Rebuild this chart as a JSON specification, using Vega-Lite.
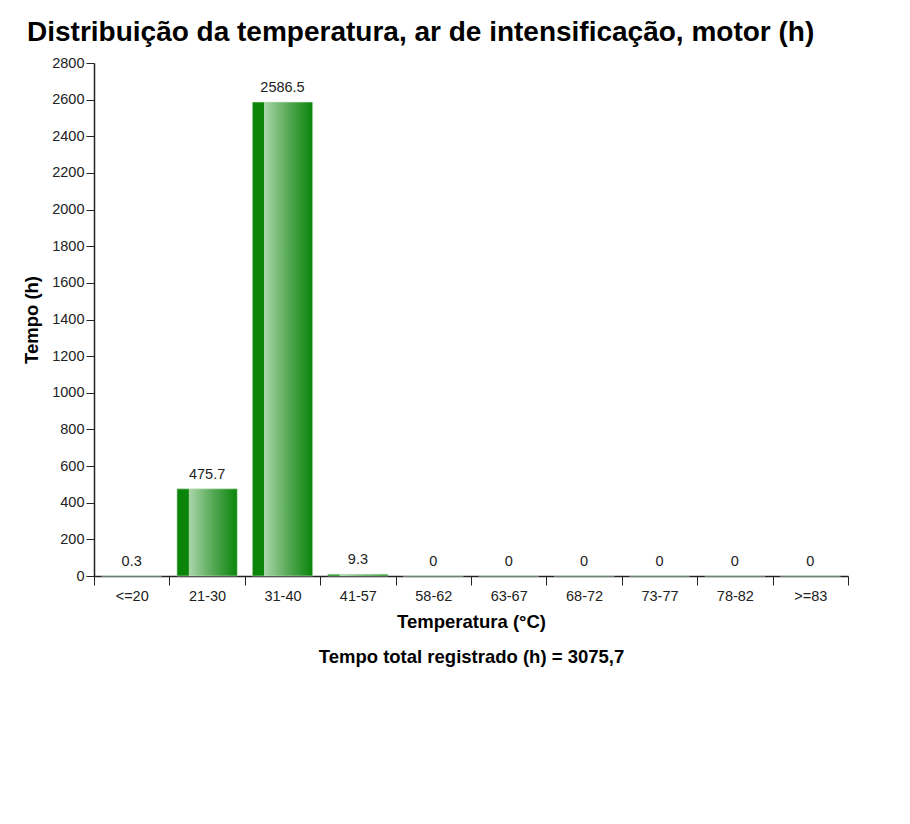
{
  "$schema": "https://vega.github.io/schema/vega-lite/v6.json",
  "autosize": {"type": "none"},
  "padding": {"left": 94, "top": 63, "right": 62, "bottom": 248},
  "width": 754,
  "height": 513,
  "background": "white",
  "config": {
    "font": "Liberation Sans",
    "view": {"stroke": null}
  },
  "title": {
    "text": "Distribuição da temperatura, ar de intensificação, motor (h)",
    "anchor": "start",
    "frame": "group",
    "dx": -67,
    "offset": 8,
    "fontSize": 28,
    "fontWeight": "bold",
    "color": "#000000",
    "font": "Liberation Sans"
  },
  "data": {
    "values": [
      {"faixa": "<=20", "tempo": 0.3, "rotulo": "0.3"},
      {"faixa": "21-30", "tempo": 475.7, "rotulo": "475.7"},
      {"faixa": "31-40", "tempo": 2586.5, "rotulo": "2586.5"},
      {"faixa": "41-57", "tempo": 9.3, "rotulo": "9.3"},
      {"faixa": "58-62", "tempo": 0, "rotulo": "0"},
      {"faixa": "63-67", "tempo": 0, "rotulo": "0"},
      {"faixa": "68-72", "tempo": 0, "rotulo": "0"},
      {"faixa": "73-77", "tempo": 0, "rotulo": "0"},
      {"faixa": "78-82", "tempo": 0, "rotulo": "0"},
      {"faixa": ">=83", "tempo": 0, "rotulo": "0"}
    ]
  },
  "encoding": {
    "x": {
      "field": "faixa",
      "type": "nominal",
      "sort": null,
      "scale": {"paddingInner": 0, "paddingOuter": 0},
      "axis": {
        "title": ["Temperatura (°C)", "Tempo total registrado (h) = 3075,7"],
        "titleLineHeight": 35,
        "titleFontSize": 18.5,
        "titleFontWeight": "bold",
        "titleColor": "#000000",
        "titlePadding": 10,
        "titleBaseline": "top",
        "labelAngle": 0,
        "labelFontSize": 14.5,
        "labelColor": "#222222",
        "labelPadding": 4,
        "tickBand": "extent",
        "tickSize": 9,
        "tickColor": "#222222",
        "domainColor": "#222222",
        "domainWidth": 1.5,
        "grid": false
      }
    },
    "y": {
      "field": "tempo",
      "type": "quantitative",
      "scale": {"domain": [0, 2800], "nice": false},
      "axis": {
        "title": "Tempo (h)",
        "titleFontSize": 18.5,
        "titleFontWeight": "bold",
        "titleColor": "#000000",
        "titlePadding": 10,
        "format": "d",
        "values": [0, 200, 400, 600, 800, 1000, 1200, 1400, 1600, 1800, 2000, 2200, 2400, 2600, 2800],
        "labelFontSize": 14.5,
        "labelColor": "#222222",
        "labelPadding": 2,
        "tickSize": 8,
        "tickColor": "#222222",
        "domainColor": "#222222",
        "domainWidth": 1.5,
        "grid": false
      }
    }
  },
  "layer": [
    {
      "mark": {
        "type": "bar",
        "width": {"band": 0.8},
        "stroke": "#c4e4c4",
        "strokeWidth": 0.6,
        "color": {
          "gradient": "linear",
          "x1": 0, "y1": 0, "x2": 1, "y2": 0,
          "stops": [
            {"offset": 0, "color": "#0a850a"},
            {"offset": 0.19, "color": "#0a850a"},
            {"offset": 0.2, "color": "#a9d6a9"},
            {"offset": 0.6, "color": "#55a855"},
            {"offset": 1, "color": "#0a850a"}
          ]
        }
      }
    },
    {
      "mark": {
        "type": "text",
        "dy": -10,
        "baseline": "alphabetic",
        "fontSize": 14.5,
        "color": "#222222"
      },
      "encoding": {
        "text": {"field": "rotulo", "type": "nominal"}
      }
    }
  ]
}
